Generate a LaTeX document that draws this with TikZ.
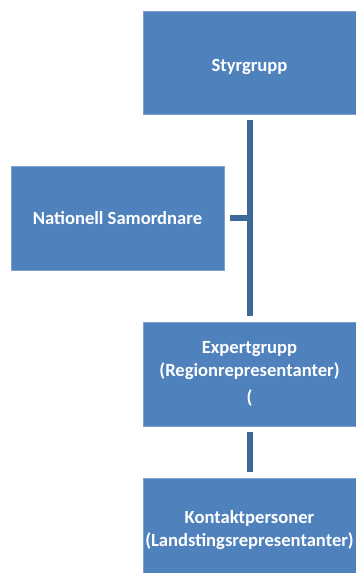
\documentclass[tikz,border=0pt]{standalone}
\usepackage{fontspec}
\setmainfont{Carlito}
\definecolor{boxblue}{HTML}{4F81BD}
\definecolor{edgeblue}{HTML}{7EA1CF}
\definecolor{linkblue}{HTML}{3E6A9A}
\begin{document}
\begin{tikzpicture}[x=1pt,y=-1pt,
  box/.style={fill=boxblue, draw=edgeblue, line width=0.8pt, minimum width=213pt, minimum height=104pt,
    text=white, font=\fontsize{18.6}{23}\selectfont\bfseries, align=center, inner sep=0pt},
  link/.style={draw=linkblue, line width=6pt}]
\useasboundingbox (0,0) rectangle (356,573);
\node[box, minimum height=103pt] (styr) at (249.5,62.5) {\raisebox{-3pt}[\height][0pt]{Styrgrupp}};
\node[box] (nat) at (117.5,218) {Nationell Samordnare};
\node[box] (expert) at (249.5,374) {Expertgrupp\\(Regionrepresentanter)\\[4pt](};
\node[box] (kontakt) at (249.5,530) {Kontaktpersoner\\(Landstingsrepresentanter)};
\draw[link] ([yshift=-6pt]styr.south) -- ([yshift=6pt]expert.north);
\draw[link] ([xshift=6pt]nat.east) -- (nat.east -| styr.south);
\draw[link] ([yshift=-6pt]expert.south) -- ([yshift=6pt]kontakt.north);
\end{tikzpicture}
\end{document}
